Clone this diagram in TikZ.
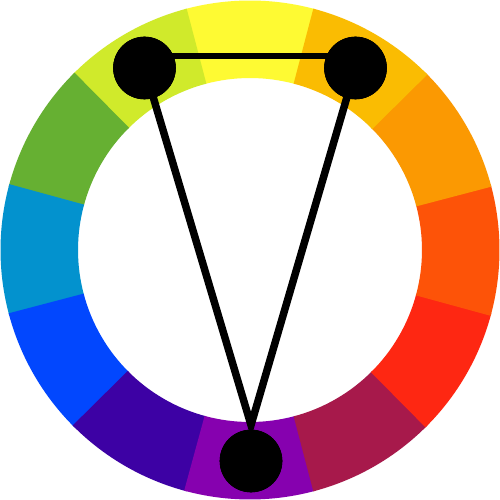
\documentclass[tikz,border=0pt]{standalone}
\usetikzlibrary{calc}
\definecolor{cY}{HTML}{FEFA33}
\definecolor{cYG}{HTML}{D0EA2B}
\definecolor{cG}{HTML}{66B032}
\definecolor{cBC}{HTML}{0392CE}
\definecolor{cB}{HTML}{0247FE}
\definecolor{cI}{HTML}{3D01A4}
\definecolor{cV}{HTML}{8601AF}
\definecolor{cM}{HTML}{A7194B}
\definecolor{cR}{HTML}{FE2712}
\definecolor{cRO}{HTML}{FD5308}
\definecolor{cO}{HTML}{FB9902}
\definecolor{cYO}{HTML}{FABC02}
\tikzset{
  dot/.style={circle, fill=black, draw=black, line width=0.6pt, inner sep=0pt, minimum size=62pt},
  link/.style={line width=7.5pt, line join=miter, black},
  bar/.style={line width=6pt, black}
}
\begin{document}
\begin{tikzpicture}[x=1pt,y=1pt]
\useasboundingbox (-250,-250) rectangle (250,250);
\fill[white] (-250,-250) rectangle (250,250);
\foreach \a/\c in {75/cY,105/cYG,135/cG,165/cBC,195/cB,225/cI,255/cV,285/cM,315/cR,345/cRO,15/cO,45/cYO}{
  \fill[\c] (\a-0.3:249.5) arc[start angle=\a-0.3, end angle=\a+30.3, radius=249.5]
    -- (\a+30.3:172) arc[start angle=\a+30.3, end angle=\a-0.3, radius=172] -- cycle;
}
\node[dot] (L) at (-105.5,182) {};
\node[dot] (R) at (105.5,182) {};
\node[dot] (B) at (1,-211) {};
\coordinate (apex) at (1,-175);
\draw[bar] ($(L.center)+(0,11.5)$) -- ($(R.center)+(0,11.5)$);
\draw[link] (L.center) -- (apex) -- (R.center);
\node[dot] at (L) {};
\node[dot] at (R) {};
\node[dot] at (B) {};
\end{tikzpicture}
\end{document}
